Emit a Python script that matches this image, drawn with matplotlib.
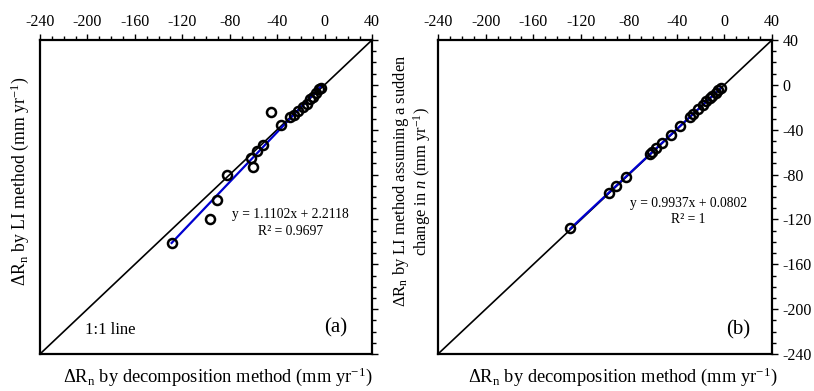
import numpy as np
import matplotlib
matplotlib.use("Agg")
from matplotlib import pyplot as plt
from matplotlib.ticker import MultipleLocator

plt.rcParams["font.family"] = ["Liberation Serif", "DejaVu Serif"]
plt.rcParams["mathtext.fontset"] = "custom"
plt.rcParams["mathtext.rm"] = "Liberation Serif"
plt.rcParams["mathtext.it"] = "Liberation Serif:italic"
plt.rcParams["axes.unicode_minus"] = False

# decomposition method (shared x values)
dr_decomp = [-129, -97, -91, -82.5, -62, -60.5, -57, -52, -45, -37,
             -29, -26, -22, -18, -15, -12, -10, -7, -5, -3]
# LI method
dr_li = [-141, -120, -103, -80, -65, -73, -59, -54, -24.5, -36,
         -29, -27, -23, -20, -17, -13, -11, -7, -4, -3]
# LI method assuming a sudden change in n
dr_li_sudden = [-128, -96.3, -90.4, -81.9, -61.5, -60, -56.6, -51.6, -44.6, -36.7,
                -28.7, -25.8, -21.8, -17.8, -14.8, -11.8, -9.9, -6.9, -4.9, -2.9]

fit_a = (1.1102, 2.2118)
fit_b = (0.9937, 0.0802)
eq_a = ["y = 1.1102x + 2.2118", "R² = 0.9697"]
eq_b = ["y = 0.9937x + 0.0802", "R² = 1"]

xlabel = r"$\Delta$R$_{\mathrm{n}}$ by decomposition method (mm yr$^{\mathrm{-1}}$)"
ylabel_a = r"$\Delta$R$_{\mathrm{n}}$ by LI method (mm yr$^{\mathrm{-1}}$)"
ylabel_b = (r"$\Delta$R$_{\mathrm{n}}$ by LI method assuming a sudden" + "\n"
            + r"change in $\mathit{n}$ (mm yr$^{\mathrm{-1}}$)")

fig = plt.figure(figsize=(8.14, 3.91), dpi=100)
ax_a = fig.add_axes([40 / 814, 1 - 354 / 391, 332 / 814, 314 / 391])
ax_b = fig.add_axes([438 / 814, 1 - 354 / 391, 334 / 814, 314 / 391])


def draw_panel(ax, y, fit, eq, tag, eq_pos, show_right_labels, xlab_x):
    ax.plot([-240, 40], [-240, 40], color="black", lw=1.2, zorder=1)
    x = np.array(dr_decomp)
    xs = np.array([x.min(), x.max()])
    ax.plot(xs, fit[0] * xs + fit[1], color="#0000d0", lw=1.6, zorder=2)
    ax.plot(x, y, "o", mfc="none", mec="black", mew=1.8, ms=6.5, zorder=3)
    ax.set_xlim(-240, 40)
    ax.set_ylim(-240, 40)
    for s in ax.spines.values():
        s.set_linewidth(1.6)
    ax.xaxis.set_major_locator(MultipleLocator(40))
    ax.xaxis.set_minor_locator(MultipleLocator(10))
    ax.yaxis.set_major_locator(MultipleLocator(40))
    ax.yaxis.set_minor_locator(MultipleLocator(10))
    ax.tick_params(which="both", direction="out", bottom=False, left=False,
                   top=True, right=True, labelbottom=False, labelleft=False,
                   labeltop=True, labelright=show_right_labels,
                   labelsize=11.5, width=1.0)
    ax.tick_params(which="major", length=4)
    ax.tick_params(which="minor", length=3)
    ax.text(eq_pos[0], eq_pos[1], eq[0], ha="center", va="center", fontsize=9.8)
    ax.text(eq_pos[0], eq_pos[1] - 14.5, eq[1], ha="center", va="center", fontsize=9.8)
    ax.text(tag[1], tag[2], tag[0], ha="center", va="center", fontsize=15)
    ax.set_xlabel(xlabel, fontsize=13.3)
    ax.xaxis.set_label_coords(xlab_x, -0.035)


draw_panel(ax_a, dr_li, fit_a, eq_a, ("(a)", 9.5, -217), (-29, -116), False, 0.535)
draw_panel(ax_b, dr_li_sudden, fit_b, eq_b, ("(b)", 11.5, -218.5), (-30, -105.5), True, 0.552)

ax_a.text(-181, -219, "1:1 line", ha="center", va="center", fontsize=12)

ax_a.set_ylabel(ylabel_a, fontsize=12.8)
ax_a.yaxis.set_label_coords(-0.028, 0.55)
ax_b.set_ylabel(ylabel_b, fontsize=11.9, linespacing=1.0)
ax_b.yaxis.set_label_coords(-0.015, 0.55)
ax_b.yaxis.set_label_position("left")

fig.savefig("out.png", dpi=100)
